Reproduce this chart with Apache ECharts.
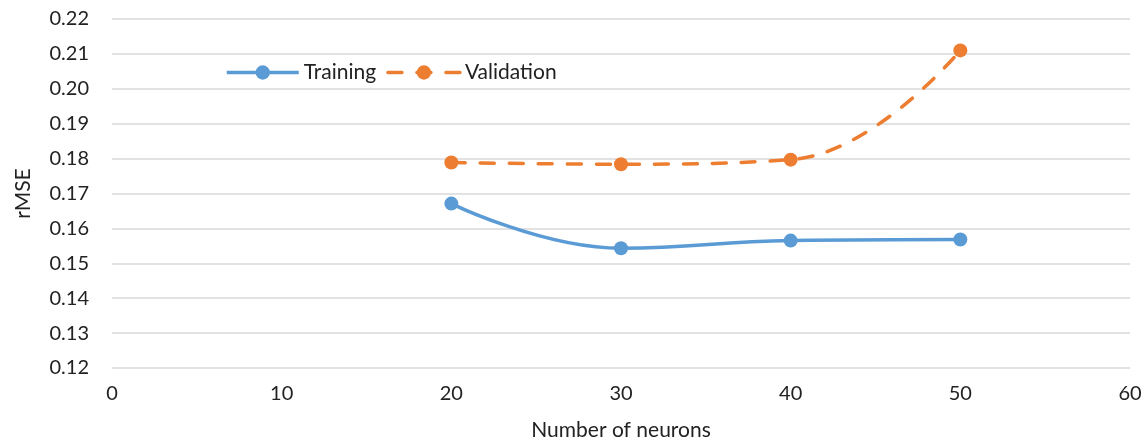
<!DOCTYPE html>
<html>
<head>
<meta charset="utf-8">
<script src="https://cdn.jsdelivr.net/npm/echarts@6/dist/echarts.min.js"></script>
<style>html,body{margin:0;padding:0;background:#fff;}#c{width:1147px;height:446px;}</style>
</head>
<body>
<div id="c"></div>
<script>
var neurons = [20, 30, 40, 50];
var training = [0.1671, 0.1543, 0.1565, 0.1568];
var validation = [0.1789, 0.1784, 0.1797, 0.2110];
var xTicks = [0, 10, 20, 30, 40, 50, 60];
var yTicks = [0.12, 0.13, 0.14, 0.15, 0.16, 0.17, 0.18, 0.19, 0.20, 0.21, 0.22];

var FONT = 'Lato';
var chart = echarts.init(document.getElementById('c'));
function pairs(xs, ys) { return xs.map(function (x, i) { return [x, ys[i]]; }); }
chart.setOption({
  animation: false,
  backgroundColor: '#fff',
  textStyle: { fontFamily: FONT },
  grid: { left: 112, right: 17, top: 19, bottom: 76, containLabel: false },
  legend: {
    left: 220, top: 57, itemWidth: 72, itemHeight: 18, itemGap: 10,
    textStyle: { fontFamily: FONT, fontSize: 21, color: '#222' },
    lineStyle: { width: 3.5 },
    data: ['Training', 'Validation']
  },
  xAxis: {
    type: 'value', min: xTicks[0], max: xTicks[xTicks.length - 1], interval: 10,
    name: 'Number of neurons', nameLocation: 'middle', nameGap: 52,
    nameTextStyle: { fontFamily: FONT, fontSize: 21, color: '#222' },
    axisLine: { show: false }, axisTick: { show: false }, splitLine: { show: false },
    axisLabel: { fontFamily: FONT, fontSize: 20, color: '#222', margin: 16 }
  },
  yAxis: {
    type: 'value', min: yTicks[0], max: yTicks[yTicks.length - 1], interval: 0.01,
    name: 'rMSE', nameLocation: 'middle', nameGap: 78, nameRotate: 90,
    nameTextStyle: { fontFamily: FONT, fontSize: 21, color: '#222' },
    axisLine: { show: false }, axisTick: { show: false },
    splitLine: { lineStyle: { color: '#D9D9D9', width: 1.5 } },
    axisLabel: { fontFamily: FONT, fontSize: 20, color: '#222', margin: 23,
      formatter: function (v) { return v.toFixed(2); } }
  },
  series: [
    { name: 'Training', type: 'line', data: pairs(neurons, training), smooth: 0.45,
      symbol: 'circle', symbolSize: 14, color: '#5B9BD5',
      itemStyle: { color: '#5B9BD5' },
      lineStyle: { color: '#5B9BD5', width: 3.5 } },
    { name: 'Validation', type: 'line', data: pairs(neurons, validation), smooth: 0.45,
      symbol: 'circle', symbolSize: 14, color: '#ED7D31',
      itemStyle: { color: '#ED7D31' },
      lineStyle: { color: '#ED7D31', width: 3.5, type: [14, 15], cap: 'round' } }
  ]
});
</script>
</body>
</html>
